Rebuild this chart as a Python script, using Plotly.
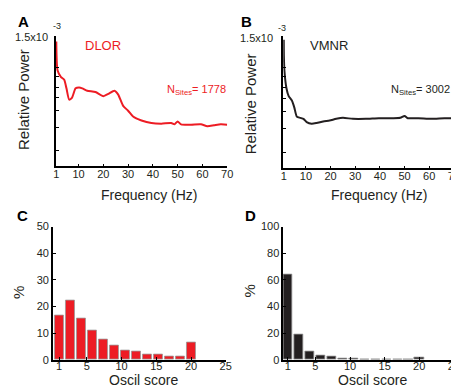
import plotly.graph_objects as go

# ---------------- data ----------------
freq_dlor = [1, 1.5, 2.9, 4.2, 5.1, 6.2, 7.3, 8.8, 10.2, 11.5, 13.5, 16.8, 20, 22, 24.5, 26, 28, 30,
             32, 35.4, 39.4, 43.4, 47.4, 48.7, 50, 51.4, 55.4, 59.4, 62, 64.7, 67.4, 70]
power_dlor = [1.44, 1.11, 1.03, 1.0, 0.90, 0.77, 0.79, 0.90, 0.91, 0.90, 0.873, 0.858, 0.81, 0.836,
              0.873, 0.828, 0.698, 0.642, 0.575, 0.53, 0.50, 0.493, 0.50, 0.485, 0.518, 0.485,
              0.481, 0.485, 0.463, 0.474, 0.485, 0.481]

freq_vmnr = [1, 1.05, 1.3, 2.1, 3, 4.3, 5.3, 6.3, 7.7, 9, 10.3, 12.3, 14.3, 17, 19.6, 22.3, 25, 29,
             34.3, 39.6, 45, 48.3, 50, 51.3, 55.6, 60.9, 66.2, 70]
power_vmnr = [1.46, 1.28, 1.10, 0.91, 0.82, 0.77, 0.69, 0.588, 0.574, 0.5625, 0.526, 0.507, 0.515,
              0.533, 0.544, 0.5625, 0.574, 0.5625, 0.5625, 0.57, 0.57, 0.574, 0.596, 0.57, 0.57,
              0.5625, 0.57, 0.57]

power_tickvals = [0.18, 0.45, 0.645, 0.79, 0.915, 1.04, 1.14, 1.5]
power_top_label = "1.5x10"
power_exponent = "-3"
freq_ticks = [1, 10, 20, 30, 40, 50, 60, 70]

score_bins = [1 + k * 19 / 12 for k in range(13)]
pct_dlor = [16.5, 22.1, 15.6, 11.1, 7.7, 5.4, 3.6, 3.3, 2.2, 1.9, 1.45, 1.3, 6.4]
pct_vmnr = [64, 19.3, 6.0, 3.4, 2.4, 1.45, 1.0, 0.7, 0.3, 0.3, 0.5, 0.3, 1.7]
score_ticks = [1, 5, 10, 15, 20, 25]

RED = "#ED1C24"
DARK = "#231F20"
FONT = "Arial, Liberation Sans, sans-serif"
W, H = 459, 388


def px(x):
    return x / W


def py(y):
    return 1 - y / H


fig = go.Figure()

fig.add_trace(go.Scatter(x=freq_dlor, y=power_dlor, mode="lines",
                         line=dict(color=RED, width=2, shape="spline", smoothing=0.6),
                         xaxis="x", yaxis="y", showlegend=False))
fig.add_trace(go.Scatter(x=freq_vmnr, y=power_vmnr, mode="lines",
                         line=dict(color=DARK, width=2, shape="spline", smoothing=0.6),
                         xaxis="x2", yaxis="y2", showlegend=False))
fig.add_trace(go.Bar(x=score_bins, y=pct_dlor, width=1.32,
                     marker=dict(color=RED, line=dict(color="#999999", width=0.8)),
                     xaxis="x3", yaxis="y3", showlegend=False))
fig.add_trace(go.Bar(x=score_bins, y=pct_vmnr, width=1.32,
                     marker=dict(color=DARK, line=dict(color="#999999", width=0.8)),
                     xaxis="x4", yaxis="y4", showlegend=False))

axis_common = dict(showline=True, linecolor="black", linewidth=1.5, ticks="inside", ticklen=3,
                   tickcolor="black", showgrid=False, zeroline=False,
                   tickfont=dict(family=FONT, size=11, color=DARK))
x_common = dict(axis_common, ticklabelstandoff=-3)
x_bar = dict(axis_common, ticklabelstandoff=-5)

fig.update_layout(
    width=W, height=H, margin=dict(l=0, r=0, t=0, b=0),
    paper_bgcolor="white", plot_bgcolor="white",
    xaxis=dict(domain=[px(45.7), px(220.5)], range=[0.8, 70], tickvals=freq_ticks,
               anchor="y", **x_common),
    yaxis=dict(domain=[py(157.3), py(23)], range=[0, 1.5], tickvals=power_tickvals,
               showticklabels=False, anchor="x", **axis_common),
    xaxis2=dict(domain=[px(277.7), px(451.7)], range=[0.8, 70], tickvals=freq_ticks,
                anchor="y2", **x_common),
    yaxis2=dict(domain=[py(159.3), py(23)], range=[0, 1.5], tickvals=power_tickvals,
                showticklabels=False, anchor="x2", **axis_common),
    xaxis3=dict(domain=[px(42.7), px(219)], range=[0.1, 25], tickvals=score_ticks,
                anchor="y3", **x_bar),
    yaxis3=dict(domain=[py(357), py(219.3)], range=[0, 50], tickvals=[0, 10, 20, 30, 40, 50],
                anchor="x3", **axis_common),
    xaxis4=dict(domain=[px(277.7), px(451.7)], range=[0.35, 25], tickvals=score_ticks,
                anchor="y4", **x_bar),
    yaxis4=dict(domain=[py(357), py(219.3)], range=[0, 100], tickvals=[0, 20, 40, 60, 80, 100],
                anchor="x4", **axis_common),
    bargap=0,
)


def ann(text, x, y, size=11, color=DARK, bold=False, angle=0, xanchor="center", yanchor="middle"):
    if bold:
        text = "<b>" + text + "</b>"
    fig.add_annotation(text=text, x=px(x), y=py(y), xref="paper", yref="paper",
                       showarrow=False, textangle=angle, xanchor=xanchor, yanchor=yanchor,
                       font=dict(family=FONT, size=size, color=color))


# panel letters
ann("A", 13, 8, size=15, bold=True, color="black")
ann("B", 240, 8, size=15, bold=True, color="black")
ann("C", 12, 208, size=15, bold=True, color="black")
ann("D", 244, 208, size=15, bold=True, color="black")

# top tick labels with exponent
ann(power_top_label, 40, 24, size=11, xanchor="right")
ann(power_exponent, 41, 12, size=9, xanchor="left")
ann(power_top_label, 269, 25, size=11, xanchor="right")
ann(power_exponent, 270, 14, size=9, xanchor="left")

# series labels
ann("DLOR", 73, 33, size=13, color=RED, xanchor="left")
ann("VMNR", 303, 33, size=13, color=DARK, xanchor="left")
ann("N<sub>Sites</sub>= 1778", 157, 78, size=11, color=RED, xanchor="left")
ann("N<sub>Sites</sub>= 3002", 386, 78, size=11, color=DARK, xanchor="left")

# axis titles
ann("Relative Power", 13, 88, size=15, angle=-90)
ann("Relative Power", 244, 93, size=15, angle=-90)
ann("Frequency (Hz)", 141, 187, size=14)
ann("Frequency (Hz)", 375, 187, size=14)
ann("%", 7, 287, size=15, angle=-90)
ann("%", 243, 286, size=15, angle=-90)
ann("Oscil score", 135, 388, size=14, yanchor="bottom")
ann("Oscil score", 369, 388, size=14, yanchor="bottom")

fig.write_html("out.html")
